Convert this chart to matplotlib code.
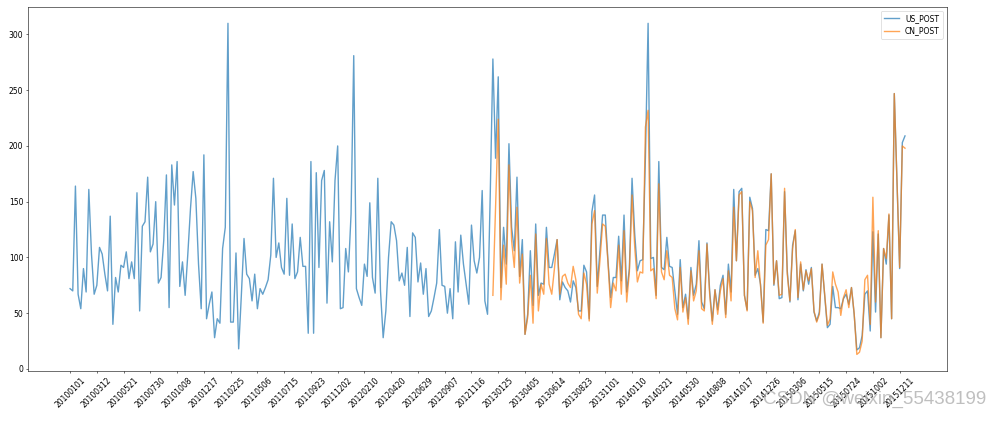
import numpy as np
import pandas as pd
import matplotlib
matplotlib.use("Agg")
import matplotlib.pyplot as plt

# weekly post counts, first week 2010-01-01
us_post = [72, 70, 164, 67, 54, 90, 69, 161, 103, 67,
           75, 109, 103, 85, 70, 137, 40, 82, 69, 93,
           91, 105, 81, 96, 81, 158, 52, 128, 132, 172,
           105, 112, 150, 77, 82, 115, 174, 55, 183, 147,
           186, 74, 96, 66, 103, 144, 177, 153, 94, 54,
           192, 45, 58, 69, 28, 45, 41, 108, 127, 310,
           42, 42, 104, 18, 66, 117, 85, 81, 61, 85,
           54, 72, 67, 73, 80, 102, 171, 100, 113, 91,
           85, 153, 84, 130, 81, 87, 118, 92, 92, 32,
           186, 32, 176, 91, 169, 178, 59, 132, 96, 169,
           200, 54, 55, 108, 87, 139, 281, 72, 64, 57,
           94, 83, 149, 82, 68, 171, 70, 28, 52, 100,
           132, 129, 115, 79, 86, 75, 109, 47, 122, 118,
           78, 95, 67, 90, 47, 52, 64, 77, 125, 75,
           74, 50, 72, 45, 114, 69, 120, 94, 76, 58,
           129, 97, 86, 100, 160, 61, 49, 155, 278, 189,
           262, 73, 127, 94, 202, 127, 106, 172, 83, 116,
           31, 49, 106, 57, 130, 66, 77, 76, 127, 91,
           91, 103, 116, 62, 78, 73, 70, 60, 79, 73,
           52, 52, 93, 87, 45, 141, 156, 74, 106, 138,
           138, 97, 64, 82, 82, 119, 79, 138, 69, 90,
           171, 121, 88, 97, 98, 190, 310, 99, 100, 66,
           186, 91, 89, 118, 92, 91, 70, 49, 98, 55,
           67, 45, 91, 66, 76, 115, 60, 54, 113, 70,
           43, 71, 53, 75, 84, 49, 94, 69, 161, 97,
           159, 162, 66, 53, 154, 144, 84, 90, 76, 42,
           125, 124, 175, 75, 97, 63, 64, 159, 88, 60,
           111, 124, 62, 94, 70, 89, 76, 91, 51, 43,
           51, 94, 66, 37, 40, 74, 55, 55, 54, 63,
           67, 58, 73, 49, 17, 19, 30, 67, 70, 34,
           123, 51, 121, 28, 108, 94, 138, 45, 247, 168,
           90, 203, 209]

# CN_POST starts at week 158
cn_start = 158
cn_post = [66, 145, 224, 62, 111, 76, 183, 115, 91, 145,
           77, 103, 31, 46, 84, 41, 121, 52, 76, 67,
           117, 76, 67, 90, 116, 67, 83, 85, 77, 73,
           92, 80, 49, 45, 86, 76, 43, 130, 142, 68,
           97, 130, 128, 96, 55, 77, 70, 111, 67, 124,
           60, 87, 156, 109, 78, 87, 86, 217, 232, 88,
           90, 63, 166, 87, 80, 106, 84, 82, 54, 44,
           91, 51, 64, 40, 88, 61, 70, 106, 54, 52,
           112, 67, 40, 71, 49, 70, 81, 46, 88, 61,
           145, 97, 156, 159, 66, 52, 150, 142, 82, 106,
           75, 41, 111, 116, 175, 76, 97, 66, 67, 162,
           85, 61, 108, 125, 64, 96, 71, 88, 79, 90,
           52, 42, 49, 94, 67, 39, 45, 87, 76, 69,
           48, 64, 71, 55, 73, 50, 13, 15, 25, 80,
           84, 40, 154, 60, 124, 28, 108, 99, 139, 45,
           247, 168, 91, 200, 198]

dates = pd.date_range("2010-01-01", periods=len(us_post), freq="7D").strftime("%Y%m%d")

fig = plt.figure(figsize=(20.02, 8.46), dpi=50)
plt.subplots_adjust(left=0.0283, right=0.9458, top=0.984, bottom=0.123)

x_us = np.arange(len(us_post))
x_cn = np.arange(cn_start, cn_start + len(cn_post))
plt.plot(x_us, us_post, alpha=0.7, linewidth=2, label="US_POST")
plt.plot(x_cn, cn_post, alpha=0.7, linewidth=2, label="CN_POST")

plt.xticks(x_us[::10], dates[::10], rotation=45, fontsize=11)
plt.yticks(np.arange(0, 301, 50), fontsize=11)
plt.legend(loc="upper right", fontsize=11)

fig.text(0.985, 0.035, "CSDN @weixin_55438199", ha="right", va="bottom",
         fontsize=27, family="Liberation Sans", color="#b0b0b0", alpha=0.8)

plt.savefig("out.png", dpi=50)
